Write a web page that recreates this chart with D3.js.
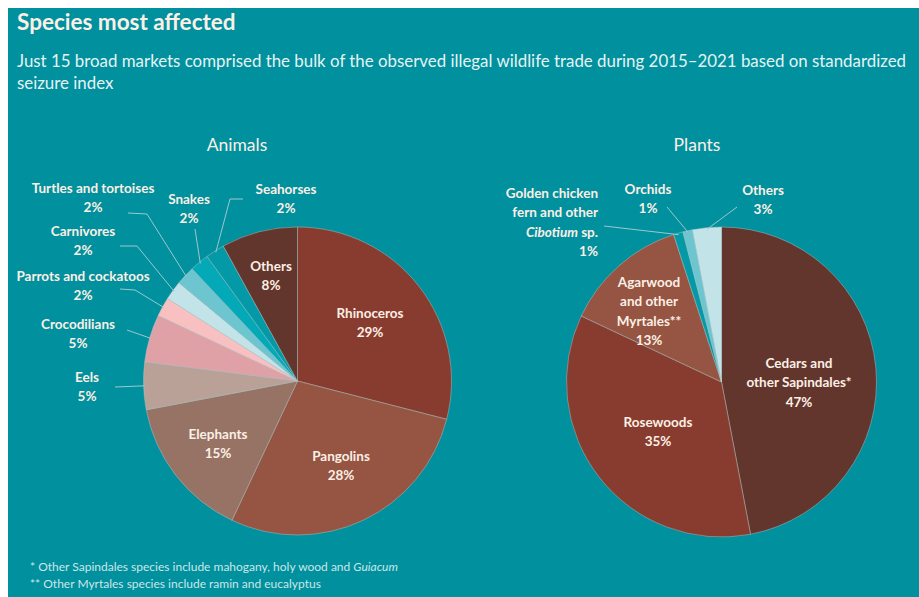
<!DOCTYPE html>
<html>
<head>
<meta charset="utf-8">
<script src="https://cdn.jsdelivr.net/npm/d3@7"></script>
<style>
  html, body { margin: 0; padding: 0; background: #fff; }
  svg { display: block; }
  text { font-family: Lato, "Open Sans", sans-serif; }
</style>
</head>
<body>
<svg id="chart" width="919" height="597"></svg>
<script>
// data
const animalNames = ["Rhinoceros", "Pangolins", "Elephants", "Eels", "Crocodilians",
  "Parrots and cockatoos", "Carnivores", "Turtles and tortoises", "Snakes", "Seahorses", "Others"];
const animalValues = [29, 28, 15, 5, 5, 2, 2, 2, 2, 2, 8];
const animalColors = ["#883c2f", "#955542", "#977366", "#b9a198", "#e0a1a6",
  "#f8c0c1", "#c2e3e8", "#6cc5cf", "#04a9b8", "#0399a7", "#62362d"];

const plantNames = ["Cedars and other Sapindales*", "Rosewoods", "Agarwood and other Myrtales**",
  "Golden chicken fern and other Cibotium sp.", "Orchids", "Others"];
const plantValues = [47, 35, 13, 1, 1, 3];
const plantColors = ["#62362d", "#883c2f", "#955542", "#0399a7", "#6cc5cf", "#c2e3e8"];

const footnotes = ["* Other Sapindales species include mahogany, holy wood and ", "** Other Myrtales species include ramin and eucalyptus"];

const svg = d3.select("#chart");
const bg = "#00909e";
const cream = "#fcefe5";

svg.append("rect")
    .attr("x", 8).attr("y", 8)
    .attr("width", 911).attr("height", 589)
    .attr("fill", bg);

// titles
svg.append("text")
    .attr("x", 17).attr("y", 30)
    .attr("font-size", 22.5).attr("font-weight", 700)
    .attr("fill", cream)
    .text("Species most affected");

const sub = svg.append("text")
    .attr("font-size", 18).attr("fill", "#e6f3f3");
const sub1 = sub.append("tspan").attr("x", 17).attr("y", 67)
    .text("Just 15 broad markets comprised the bulk of the observed illegal wildlife trade during 2015\u20132021 based on standardized");
sub.append("tspan").attr("x", 17).attr("y", 89)
    .text("seizure index");
// shrink font so the first line fits inside the panel
const w0 = sub1.node().getComputedTextLength();
if (w0 > 890) sub.attr("font-size", 18 * 890 / w0);

svg.append("text").attr("x", 237).attr("y", 151)
    .attr("text-anchor", "middle").attr("font-size", 17.5).attr("fill", cream)
    .text("Animals");
svg.append("text").attr("x", 697).attr("y", 151)
    .attr("text-anchor", "middle").attr("font-size", 17.5).attr("fill", cream)
    .text("Plants");

// pies
const pie = d3.pie().sort(null).value(d => d.v);

function drawPie(names, values, colors, cx, cy, r) {
    const rows = names.map((n, i) => ({name: n, v: values[i], color: colors[i]}));
    const arcs = pie(rows);
    const arc = d3.arc().innerRadius(0).outerRadius(r);
    const g = svg.append("g").attr("transform", `translate(${cx},${cy})`);
    g.selectAll("path")
        .data(arcs)
        .join("path")
        .attr("d", arc)
        .attr("fill", d => d.data.color)
        .attr("stroke", "rgba(190,200,200,0.55)")
        .attr("stroke-width", 0.8);
    return {g, arcs, r, cx, cy};
}

const left = drawPie(animalNames, animalValues, animalColors, 297.5, 381, 154);
const right = drawPie(plantNames, plantValues, plantColors, 721.5, 382, 155);

// point on slice rim at mid angle
function rimPoint(p, i, k) {
    const a = p.arcs[i];
    const m = (a.startAngle + a.endAngle) / 2;
    const rr = p.r * (k || 1);
    return [p.cx + rr * Math.sin(m), p.cy - rr * Math.cos(m)];
}

function leader(pts) {
    svg.append("path")
        .attr("d", d3.line()(pts))
        .attr("fill", "none")
        .attr("stroke", "#9cc8cc")
        .attr("stroke-width", 1);
}

function label(lines, x, y, anchor) {
    const t = svg.append("text")
        .attr("font-size", 13.5).attr("font-weight", 700)
        .attr("fill", cream)
        .attr("text-anchor", anchor || "middle");
    lines.forEach((l, j) => {
        const ts = t.append("tspan").attr("x", x).attr("y", y + j * 19.3);
        if (Array.isArray(l)) {
            l.forEach(part => ts.append("tspan").attr("font-style", part.i ? "italic" : null).text(part.t));
        } else {
            ts.text(l);
        }
    });
}

const pct = v => v + "%";

// animals: outside labels
leader([[128, 213], [147, 214], rimPoint(left, 7, 0.99)]);
leader([[195, 229], rimPoint(left, 8, 0.99)]);
leader([[243, 199], [230, 199], rimPoint(left, 9, 0.99)]);
leader([[120, 246], [137, 246], rimPoint(left, 6, 0.99)]);
leader([[120, 289], [135, 290], rimPoint(left, 5, 0.99)]);
leader([[127, 330], rimPoint(left, 4, 0.99)]);
leader([[115, 387], rimPoint(left, 3, 0.99)]);

label([animalNames[7], pct(animalValues[7])], 93, 193);
label([animalNames[8], pct(animalValues[8])], 189, 204);
label([animalNames[9], pct(animalValues[9])], 286, 194);
label([animalNames[6], pct(animalValues[6])], 83, 236);
label([animalNames[5], pct(animalValues[5])], 83, 281);
label([animalNames[4], pct(animalValues[4])], 78, 329);
label([animalNames[3], pct(animalValues[3])], 87, 382);

// animals: inside labels
label([animalNames[10], pct(animalValues[10])], 271, 271);
label([animalNames[0], pct(animalValues[0])], 370, 318);
label([animalNames[1], pct(animalValues[1])], 341, 461);
label([animalNames[2], pct(animalValues[2])], 218, 439);

// plants
leader([[604, 226], rimPoint(right, 3, 0.99)]);
leader([[667, 207], rimPoint(right, 4, 0.99)]);
leader([[737, 207], rimPoint(right, 5, 0.99)]);

label(["Golden chicken", "fern and other", [{t: "Cibotium", i: true}, {t: " sp."}], pct(plantValues[3])], 598, 198, "end");
label([plantNames[4], pct(plantValues[4])], 648, 194);
label([plantNames[5], pct(plantValues[5])], 763, 195);
label(["Agarwood", "and other", "Myrtales**", pct(plantValues[2])], 649, 287);
label(["Cedars and", "other Sapindales*", pct(plantValues[0])], 799, 368);
label([plantNames[1], pct(plantValues[1])], 658, 427);

// footnotes
const fn = svg.append("text").attr("font-size", 12).attr("fill", "#cde6e8");
const f1 = fn.append("tspan").attr("x", 30).attr("y", 571);
f1.append("tspan").text(footnotes[0]);
f1.append("tspan").attr("font-style", "italic").text("Guiacum");
fn.append("tspan").attr("x", 30).attr("y", 588).text(footnotes[1]);
</script>
</body>
</html>
